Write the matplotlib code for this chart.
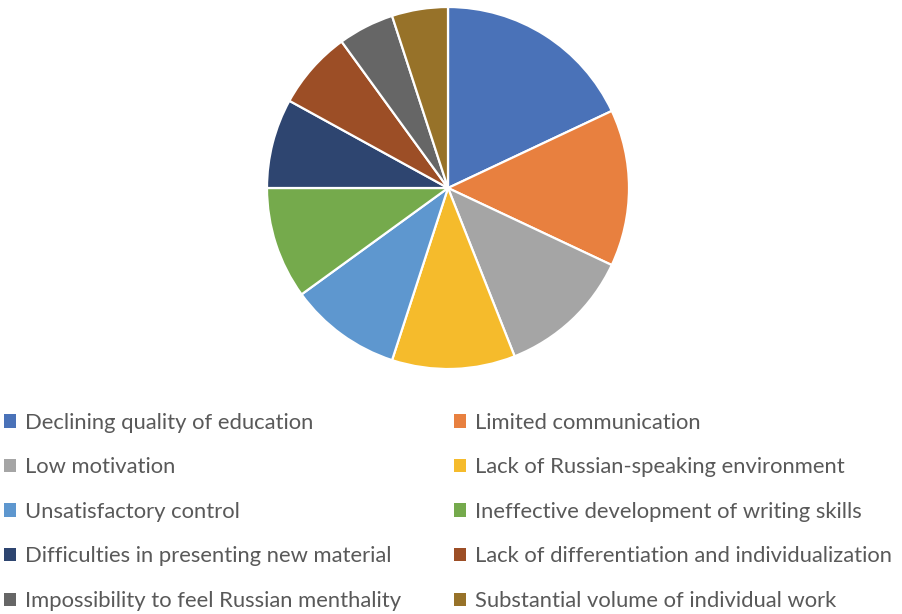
import matplotlib
matplotlib.use("Agg")
import matplotlib.pyplot as plt
from matplotlib.patches import Patch

labels = [
    "Declining quality of education",
    "Limited communication",
    "Low motivation",
    "Lack of Russian-speaking environment",
    "Unsatisfactory control",
    "Ineffective development of writing skills",
    "Difficulties in presenting new material",
    "Lack of differentiation and individualization",
    "Impossibility to feel Russian menthality",
    "Substantial volume of individual work",
]
values = [18, 14, 12, 11, 10, 10, 8, 7, 5, 5]
colors = ["#4A72B8", "#E8803F", "#A5A5A5", "#F5BB2C", "#5E97CF",
          "#75AA4C", "#2E4570", "#9C4E26", "#666666", "#977229"]

W, H = 902, 614
fig = plt.figure(figsize=(W / 100, H / 100), dpi=100)

cx, cy, r = 448, 188, 181
ax = fig.add_axes([(cx - r) / W, (H - cy - r) / H, 2 * r / W, 2 * r / H])
ax.pie(values, colors=colors, startangle=90, counterclock=False,
       wedgeprops=dict(edgecolor="white", linewidth=1.6))
ax.set_xlim(-1, 1)
ax.set_ylim(-1, 1)
ax.axis("off")

handles = [Patch(facecolor=c, edgecolor="none") for c in colors]
# legend rows go left to right: pair up entries for column-major layout
order = list(range(0, 10, 2)) + list(range(1, 10, 2))
leg = fig.legend([handles[i] for i in order], [labels[i] for i in order],
                 ncol=2, loc="upper left", bbox_to_anchor=(2 / W, 1 - 410.5 / H),
                 frameon=False, handlelength=0.55, handleheight=0.55,
                 handletextpad=0.4, columnspacing=2.4, labelspacing=1.12,
                 borderaxespad=0, borderpad=0.1,
                 prop=dict(family="Lato", size=15.8))
for t in leg.get_texts():
    t.set_color("#595959")

fig.savefig("out.png", dpi=100)
